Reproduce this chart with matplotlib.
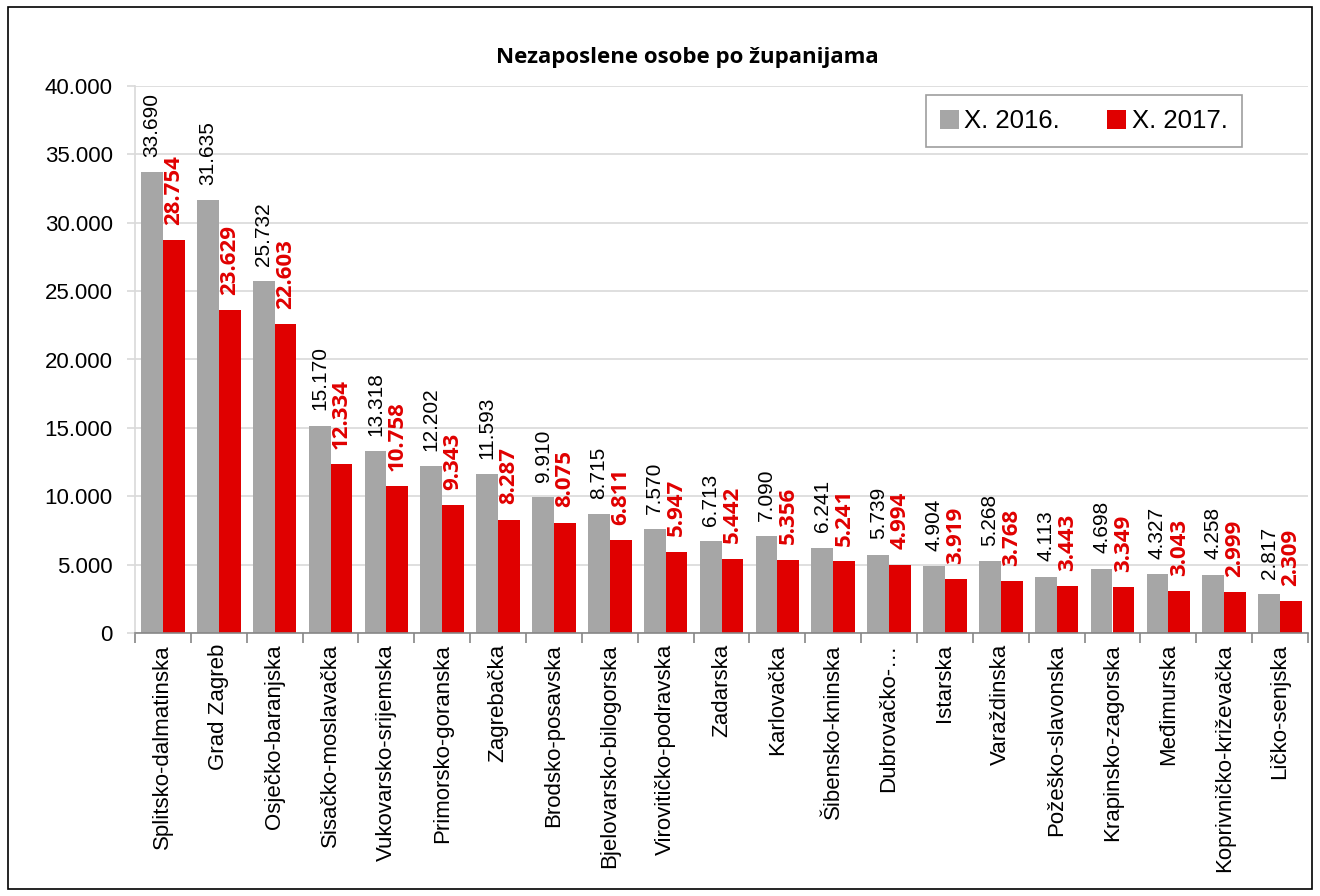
import matplotlib
matplotlib.use("Agg")
import matplotlib.pyplot as plt
from matplotlib.ticker import FuncFormatter, FixedLocator
import numpy as np
from matplotlib.patches import Rectangle

categories = ["Splitsko-dalmatinska", "Grad Zagreb", "Osječko-baranjska", "Sisačko-moslavačka",
              "Vukovarsko-srijemska", "Primorsko-goranska", "Zagrebačka", "Brodsko-posavska",
              "Bjelovarsko-bilogorska", "Virovitičko-podravska", "Zadarska", "Karlovačka",
              "Šibensko-kninska", "Dubrovačko-…", "Istarska", "Varaždinska", "Požeško-slavonska",
              "Krapinsko-zagorska", "Međimurska", "Koprivničko-križevačka", "Ličko-senjska"]
v2016 = [33690, 31635, 25732, 15170, 13318, 12202, 11593, 9910, 8715, 7570, 6713, 7090,
         6241, 5739, 4904, 5268, 4113, 4698, 4327, 4258, 2817]
v2017 = [28754, 23629, 22603, 12334, 10758, 9343, 8287, 8075, 6811, 5947, 5442, 5356,
         5241, 4994, 3919, 3768, 3443, 3349, 3043, 2999, 2309]
series_names = ["X. 2016.", "X. 2017."]

def fmt(v):
    return f"{v:,}".replace(",", ".")

plt.rcParams['font.family'] = ['Liberation Sans Narrow', 'Liberation Sans', 'DejaVu Sans']

fig = plt.figure(figsize=(13.2, 8.96), dpi=100)
fig.patches.append(Rectangle((0.006, 0.008), 0.988, 0.984, transform=fig.transFigure,
                             fill=False, edgecolor='black', linewidth=1.2))
ax = fig.add_axes([135/1320, 1-633/896, (1308-135)/1320, (633-86)/896])

x = np.arange(len(categories))
w = 0.39
grey = '#a6a6a6'
red = '#e00000'
ax.bar(x - w/2, v2016, w, color=grey, label=series_names[0], zorder=2)
ax.bar(x + w/2, v2017, w, color=red, label=series_names[1], zorder=2)

for i in range(len(categories)):
    ax.annotate(fmt(v2016[i]), (x[i] - w/2, v2016[i]), xytext=(0, 11), textcoords='offset points',
                rotation=90, ha='center', va='bottom', fontsize=15, color='black')
    ax.annotate(fmt(v2017[i]), (x[i] + w/2, v2017[i]), xytext=(0, 11), textcoords='offset points',
                rotation=90, ha='center', va='bottom', fontsize=16, color=red, fontweight='bold',
                family=['Open Sans', 'DejaVu Sans'])

ax.set_xlim(-0.5, len(categories) - 0.5)
ax.set_ylim(0, 40000)
ax.set_yticks(np.arange(0, 40001, 5000))
ax.yaxis.set_major_formatter(FuncFormatter(lambda v, p: fmt(int(v))))
ax.tick_params(axis='y', labelsize=16, length=6, color='#d9d9d9', width=1.2, pad=10)
ax.grid(axis='y', color='#d9d9d9', linewidth=1.2, zorder=0)
ax.set_axisbelow(True)

ax.set_xticks(x)
ax.set_xticklabels(categories, rotation=90, fontsize=16)
ax.tick_params(axis='x', length=0, pad=8)
ax.xaxis.set_minor_locator(FixedLocator(np.arange(-0.5, len(categories), 1)))
ax.tick_params(axis='x', which='minor', length=7, color='#868686', width=1.2)

for s in ['top', 'right']:
    ax.spines[s].set_visible(False)
ax.spines['left'].set_color('#d9d9d9')
ax.spines['left'].set_linewidth(1.2)
ax.spines['bottom'].set_color('#868686')
ax.spines['bottom'].set_linewidth(1.2)

fig.text(687/1320, 1 - 57/896, "Nezaposlene osobe po županijama", ha='center', va='center',
         fontsize=16, fontweight='bold', family=['Open Sans', 'DejaVu Sans'])

leg = ax.legend(loc='upper left', bbox_to_anchor=(0.674, 0.8793, 0.2694, 0.1042),
                mode='expand', ncol=2, frameon=True, fancybox=False,
                handlelength=0.75, handleheight=0.75, handletextpad=0.2, columnspacing=1.0,
                borderpad=0.55, borderaxespad=0.0,
                prop={'family': ['Liberation Sans', 'DejaVu Sans'], 'size': 18.5})
leg.get_frame().set_edgecolor('#868686')
leg.get_frame().set_linewidth(1.2)

fig.savefig("out.png", dpi=100)
